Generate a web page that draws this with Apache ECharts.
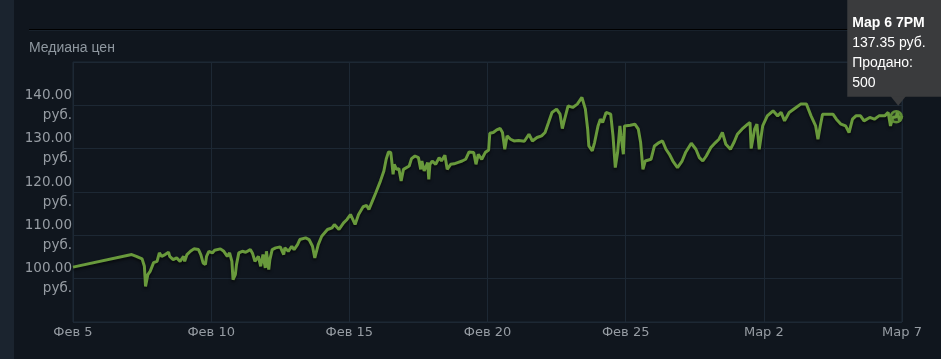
<!DOCTYPE html>
<html>
<head>
<meta charset="utf-8">
<script src="https://cdn.jsdelivr.net/npm/echarts@6/dist/echarts.min.js"></script>
<style>
  html, body { margin: 0; padding: 0; background: #10161e; }
  #wrap { position: relative; width: 941px; height: 359px; overflow: hidden; background: #10161e; }
  #strip { position: absolute; left: 0; top: 0; width: 14px; height: 359px; background: #1b242f; }
  #rule { position: absolute; left: 29px; top: 29px; width: 912px; height: 1px; background: #000; border-bottom: 1px solid #18212b; }
  #chart { position: absolute; left: 0; top: 0; width: 941px; height: 359px; }
</style>
</head>
<body>
<div id="wrap">
  <div id="strip"></div>
  <div id="rule"></div>
  <div id="chart"></div>
</div>
<script>
// Hours since Feb 5, 00:00
const hours = [
  0,51,55,60,62,63,65,67,70,73,
  75,77,80,83,84,87,90,93,96,97,
  99,102,105,109,111,113,115,116,118,121,
  123,128,131,134,136,138,139,141,142,144,
  147,150,154,156,158,161,163,165,167,168,
  170,171,173,176,180,183,184,187,190,192,
  195,197,202,205,208,210,213,216,221,225,
  227,231,235,238,241,243,245,248,252,255,
  257,260,263,267,270,272,274,276,277,278,
  279,281,283,285,287,292,294,297,300,302,
  303,305,308,309,310,312,315,318,320,323,
  325,328,331,334,338,341,344,348,350,352,
  355,358,361,362,365,368,371,373,375,377,
  380,383,387,392,396,399,403,407,410,413,
  416,420,423,425,427,430,434,438,442,445,
  447,448,451,453,456,458,460,463,467,469,
  471,473,475,476,478,479,484,488,491,493,
  495,497,502,505,509,512,515,518,521,525,
  529,532,537,541,544,547,550,554,558,561,
  564,567,571,574,577,581,586,588,589,592,
  594,596,599,603,608,612,615,618,622,628,
  632,637,641,645,647,649,651,655,660,663,
  667,671,674,677,680,684,687,692,696,700,
  705,708,710,712,715,716,718,720
];
// Median price, rub.
const prices = [
  102.66,105.56,105.16,104.56,102.85,98.22,100.93,101.69,103.70,104.00,
  105.95,105.16,105.56,106.09,105.16,104.40,104.79,104.00,105.16,104.00,
  105.56,106.32,106.88,106.71,105.56,103.63,103.24,105.16,106.32,105.95,
  106.55,106.88,106.32,105.16,105.95,104.00,99.77,100.93,103.24,105.95,
  106.32,106.09,106.71,105.79,104.00,105.16,102.85,105.56,102.48,106.32,
  102.08,104.40,106.71,107.11,107.34,105.56,107.11,106.32,107.48,106.71,
  107.87,109.03,109.42,109.03,107.48,104.79,107.87,109.79,111.34,111.74,
  112.50,111.34,112.89,113.66,114.81,113.66,112.50,114.81,116.60,116.90,
  115.97,117.89,119.84,122.52,124.84,127.55,129.24,129.10,126.78,124.07,
  126.39,125.23,125.40,122.52,125.23,126.00,127.71,128.31,127.94,125.23,
  127.15,124.84,126.78,122.92,126.39,127.15,126.39,127.94,127.15,128.47,
  125.23,126.39,126.50,126.78,127.15,127.55,129.24,129.10,126.39,128.70,
  127.55,129.10,129.70,133.56,133.73,134.33,134.65,133.73,129.86,132.94,
  132.18,131.78,131.90,131.70,133.33,131.78,132.57,132.94,133.73,136.04,
  138.36,139.12,137.96,134.65,136.81,139.88,139.51,140.28,141.83,139.12,
  134.49,130.63,129.47,131.41,135.25,136.81,136.04,138.36,137.96,132.94,
  125.63,129.10,135.25,132.94,128.70,135.25,135.42,135.65,134.49,131.41,
  125.23,127.15,127.55,130.63,131.41,131.78,129.86,128.70,127.15,125.63,
  127.15,129.10,131.25,129.86,127.94,127.15,128.31,130.25,131.41,132.18,
  133.73,131.02,129.86,131.41,133.33,134.49,135.65,136.04,130.02,134.49,
  135.65,129.86,135.25,137.57,138.73,137.57,138.36,136.41,138.36,139.51,
  140.28,140.28,137.57,135.25,132.18,135.25,137.96,137.96,137.96,136.81,
  135.65,135.25,133.73,136.81,137.57,137.57,136.41,137.20,136.81,137.57,
  137.57,138.36,135.25,137.20,137.35,138.36,136.41,137.57
];
const xTickHours = [0, 120, 240, 360, 480, 600, 720];
const xTickLabels = ['Фев 5', 'Фев 10', 'Фев 15', 'Фев 20', 'Фев 25', 'Мар 2', 'Мар 7'];
const yTicks = [90, 100, 110, 120, 130, 140, 150];
const tipHour = 715;
const tipDate = 'Мар 6 7PM';
const tipSold = 500;

const tipIndex = hours.indexOf(tipHour);
const tipPrice = prices[tipIndex];
const lineColor = '#699a3c';
const gridColor = '#1d2834';
const labelColor = '#969ca3';
const tipBg = '#3a3b3d';

const chart = echarts.init(document.getElementById('chart'));
chart.setOption({
  backgroundColor: 'transparent',
  animation: false,
  title: {
    text: 'Медиана цен',
    left: 29, top: 40, padding: 0,
    textStyle: { color: '#8f98a0', fontSize: 14, fontWeight: 'normal', fontFamily: 'Liberation Sans', lineHeight: 16 }
  },
  grid: { left: 73, right: 39, top: 62, bottom: 37, show: true, borderColor: gridColor, borderWidth: 1, backgroundColor: 'transparent' },
  xAxis: {
    type: 'value', min: xTickHours[0], max: xTickHours[xTickHours.length - 1], interval: 120,
    axisLine: { show: false }, axisTick: { show: false },
    splitLine: { show: true, lineStyle: { color: gridColor, width: 1 } },
    axisLabel: {
      color: labelColor, fontSize: 13, fontFamily: 'DejaVu Sans', margin: 4,
      showMinLabel: true, showMaxLabel: true,
      formatter: v => { const i = xTickHours.indexOf(v); return i >= 0 ? xTickLabels[i] : ''; }
    }
  },
  yAxis: {
    type: 'value', min: yTicks[0], max: yTicks[yTicks.length - 1], interval: 10,
    axisLine: { show: false }, axisTick: { show: false },
    splitLine: { show: true, lineStyle: { color: gridColor, width: 1 } },
    axisLabel: {
      color: labelColor, fontSize: 13.5, fontFamily: 'DejaVu Sans', lineHeight: 20, margin: 1, align: 'right',
      showMinLabel: false, showMaxLabel: false,
      formatter: v => v.toFixed(2) + '\nруб.'
    }
  },
  series: [{
    type: 'line',
    data: hours.map((h, i) => [h, prices[i]]),
    showSymbol: false,
    smooth: false,
    lineStyle: { color: lineColor, width: 3, shadowColor: 'rgba(0,0,0,0.6)', shadowBlur: 3, shadowOffsetY: 2 },
    markPoint: {
      silent: true,
      animation: false,
      data: [
        {
          coord: [tipHour, tipPrice], symbol: 'circle', symbolSize: 11,
          itemStyle: { color: 'rgba(105,154,60,0.25)', borderColor: '#5f8e36', borderWidth: 2.5 },
          label: { show: false }
        },
        {
          coord: [tipHour, tipPrice], symbol: 'triangle', symbolRotate: 180, symbolSize: [16, 10], symbolOffset: [2, -16],
          itemStyle: { color: tipBg },
          label: { show: false }
        },
        {
          coord: [tipHour, tipPrice], symbol: 'rect', symbolSize: 1,
          itemStyle: { color: 'rgba(0,0,0,0)' },
          label: {
            show: true, position: 'inside', align: 'left', verticalAlign: 'bottom', offset: [-49, -20],
            backgroundColor: tipBg, padding: [14, 40, 4, 5],
            color: '#ffffff', fontSize: 14, lineHeight: 20, fontFamily: 'Liberation Sans',
            formatter: '{b|' + tipDate + '}\n' + tipPrice.toFixed(2) + ' руб.\nПродано:\n' + tipSold,
            rich: { b: { fontWeight: 'bold', color: '#ffffff', fontSize: 14, lineHeight: 20, fontFamily: 'Liberation Sans' } }
          }
        }
      ]
    }
  }]
});
</script>
</body>
</html>
